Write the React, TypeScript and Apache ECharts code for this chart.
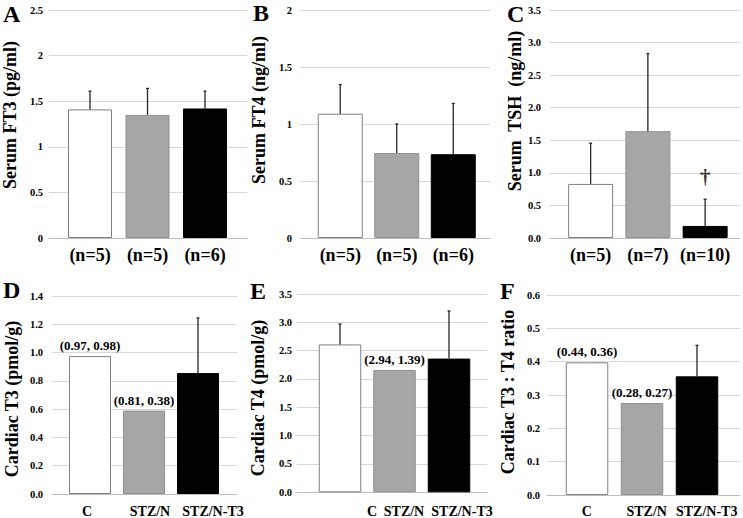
import React, { useEffect, useRef } from 'react';
import * as echarts from 'echarts';

// ---------- data ----------
const nCatsAB = ['(n=5)', '(n=5)', '(n=6)'];
const nCatsC = ['(n=5)', '(n=7)', '(n=10)'];
const groupCats = ['C', 'STZ/N', 'STZ/N-T3'];

const ft3Mean = [1.41, 1.35, 1.42];
const ft3Err = [0.2, 0.29, 0.19];
const ft4Mean = [1.09, 0.745, 0.735];
const ft4Err = [0.255, 0.255, 0.445];
const tshMean = [0.83, 1.64, 0.185];
const tshErr = [0.625, 1.19, 0.41];
const cardT3Mean = [0.975, 0.59, 0.855];
const cardT3Err = [null, null, 0.39];
const cardT3Notes = ['(0.97, 0.98)', '(0.81, 0.38)', ''];
const cardT4Mean = [2.61, 2.16, 2.36];
const cardT4Err = [0.36, null, 0.84];
const cardT4Notes = ['', '(2.94, 1.39)', ''];
const ratioMean = [0.398, 0.276, 0.356];
const ratioErr = [null, null, 0.093];
const ratioNotes = ['(0.44, 0.36)', '(0.28, 0.27)', ''];
const tshMark = { index: 2, value: 0.94, text: '†' };

const yAxisA = { max: 2.5, interval: 0.5, decimals: -1 };
const yAxisB = { max: 2, interval: 0.5, decimals: -1 };
const yAxisC = { max: 3.5, interval: 0.5, decimals: 1 };
const yAxisD = { max: 1.4, interval: 0.2, decimals: 1 };
const yAxisE = { max: 3.5, interval: 0.5, decimals: 1 };
const yAxisF = { max: 0.6, interval: 0.1, decimals: 1 };

// ---------- layout / style ----------
const SERIF = 'Liberation Serif';
const barColors = [
  { color: '#ffffff', borderColor: '#808080', borderWidth: 1 },
  { color: '#a6a6a6', borderColor: '#909090', borderWidth: 1 },
  { color: '#000000', borderColor: '#000000', borderWidth: 1 },
];

type Panel = {
  letter: string;
  yName: string;
  cats: string[];
  means: number[];
  errs: (number | null)[];
  notes?: string[];
  axis: { max: number; interval: number; decimals: number };
  wide: { left: number; width: number; top: number; height: number };
  bars: { left: number; width: number };
  labels: { left: number; width: number };
  labelShift?: number[];
  barWidth: number;
  tickMargin: number;
  labelFont: number;
  labelMargin: number;
  letterPos: [number, number];
  namePos: [number, number];
  nameFont: number;
};

const panels: Panel[] = [
  {
    letter: 'A', yName: 'Serum FT3 (pg/ml)', cats: nCatsAB, means: ft3Mean, errs: ft3Err, axis: yAxisA,
    wide: { left: 49, width: 198, top: 10, height: 228 },
    bars: { left: 61.25, width: 172.5 }, labels: { left: 61.25, width: 172.5 }, barWidth: 44,
    tickMargin: 6, labelFont: 18, labelMargin: 8, letterPos: [3, 14], namePos: [10, 115], nameFont: 18,
  },
  {
    letter: 'B', yName: 'Serum FT4 (ng/ml)', cats: nCatsAB, means: ft4Mean, errs: ft4Err, axis: yAxisB,
    wide: { left: 300, width: 190, top: 10, height: 228 },
    bars: { left: 312, width: 169.5 }, labels: { left: 312, width: 169.5 }, barWidth: 45,
    tickMargin: 8, labelFont: 18, labelMargin: 8, letterPos: [253, 13], namePos: [259, 110], nameFont: 18,
  },
  {
    letter: 'C', yName: 'Serum  TSH  (ng/ml)', cats: nCatsC, means: tshMean, errs: tshErr, axis: yAxisC,
    wide: { left: 550, width: 190, top: 10, height: 228 },
    bars: { left: 562, width: 171.75 }, labels: { left: 562, width: 171.75 }, barWidth: 45,
    tickMargin: 9, labelFont: 18, labelMargin: 8, letterPos: [507, 14], namePos: [515, 111], nameFont: 18,
  },
  {
    letter: 'D', yName: 'Cardiac T3 (pmol/g)', cats: groupCats, means: cardT3Mean, errs: cardT3Err, notes: cardT3Notes, axis: yAxisD,
    wide: { left: 52, width: 185, top: 296, height: 198 },
    bars: { left: 63, width: 162 }, labels: { left: 55.5, width: 189 }, barWidth: 42,
    tickMargin: 9, labelFont: 14, labelMargin: 11, letterPos: [3, 290], namePos: [12, 399], nameFont: 18,
  },
  {
    letter: 'E', yName: 'Cardiac T4 (pmol/g)', cats: groupCats, means: cardT4Mean, errs: cardT4Err, notes: cardT4Notes, axis: yAxisE,
    wide: { left: 297, width: 190, top: 294, height: 198.3 },
    bars: { left: 312.75, width: 163.5 }, labels: { left: 349.5, width: 135 }, labelShift: [0, -13, 0], barWidth: 42.5,
    tickMargin: 5, labelFont: 14, labelMargin: 12, letterPos: [250, 291], namePos: [258, 398], nameFont: 18,
  },
  {
    letter: 'F', yName: 'Cardiac T3 : T4 ratio', cats: groupCats, means: ratioMean, errs: ratioErr, notes: ratioNotes, axis: yAxisF,
    wide: { left: 547, width: 193, top: 295, height: 200 },
    bars: { left: 559.5, width: 165 }, labels: { left: 556.7, width: 180 }, barWidth: 42.5,
    tickMargin: 7, labelFont: 14, labelMargin: 10, letterPos: [500, 291], namePos: [508, 392], nameFont: 18,
  },
];

function buildOption() {
  const grid: any[] = [];
  const xAxis: any[] = [];
  const yAxis: any[] = [];
  const series: any[] = [];
  const graphic: any[] = [];

  panels.forEach((p, i) => {
    const gw = 3 * i, gb = 3 * i + 1, gl = 3 * i + 2;
    grid.push({ left: p.wide.left, width: p.wide.width, top: p.wide.top, height: p.wide.height, containLabel: false });
    grid.push({ left: p.bars.left, width: p.bars.width, top: p.wide.top, height: p.wide.height, containLabel: false });
    grid.push({ left: p.labels.left, width: p.labels.width, top: p.wide.top, height: p.wide.height, containLabel: false });

    xAxis.push({
      type: 'category', gridIndex: gw, data: p.cats,
      axisLine: { show: true, lineStyle: { color: '#bdbdbd', width: 1 } },
      axisTick: { show: false }, axisLabel: { show: false }, splitLine: { show: false },
    });
    xAxis.push({
      type: 'category', gridIndex: gb, data: p.cats,
      axisLine: { show: false }, axisTick: { show: false }, axisLabel: { show: false },
    });
    const rich: any = {};
    const shifts = p.labelShift || [0, 0, 0];
    shifts.forEach((s, k) => {
      rich['s' + k] = {
        fontFamily: SERIF, fontWeight: 'bold', fontSize: p.labelFont, color: '#000',
        padding: s < 0 ? [0, -2 * s, 0, 0] : [0, 0, 0, 2 * s],
      };
    });
    xAxis.push({
      type: 'category', gridIndex: gl, data: p.cats,
      axisLine: { show: false }, axisTick: { show: false },
      axisLabel: {
        show: true, interval: 0, margin: p.labelMargin, color: '#000',
        fontFamily: SERIF, fontWeight: 'bold', fontSize: p.labelFont,
        formatter: (v: string, idx: number) => `{s${idx}|${v}}`,
        rich,
      },
    });

    const dec = p.axis.decimals;
    yAxis.push({
      type: 'value', gridIndex: gw, min: 0, max: p.axis.max, interval: p.axis.interval,
      axisLine: { show: false }, axisTick: { show: false },
      splitLine: { show: true, lineStyle: { color: '#d9d9d9', width: 1 } },
      axisLabel: {
        show: true, margin: p.tickMargin, color: '#000', fontFamily: SERIF, fontWeight: 'bold', fontSize: 10.5,
        formatter: (v: number) => (dec >= 0 ? v.toFixed(dec) : String(Math.round(v * 100) / 100)),
      },
    });
    yAxis.push({ type: 'value', gridIndex: gb, min: 0, max: p.axis.max, show: false, splitLine: { show: false } });
    yAxis.push({ type: 'value', gridIndex: gl, min: 0, max: p.axis.max, show: false, splitLine: { show: false } });

    series.push({
      type: 'bar', xAxisIndex: gb, yAxisIndex: gb, barWidth: p.barWidth, z: 3,
      data: p.means.map((v, k) => {
        const note = p.notes ? p.notes[k] : '';
        return {
          value: v,
          itemStyle: barColors[k],
          label: note
            ? {
                show: true, position: 'top', distance: 4, formatter: note, color: '#000',
                fontFamily: SERIF, fontWeight: 'bold', fontSize: 13,
              }
            : { show: false },
        };
      }),
    });

    const errData = p.means
      .map((v, k) => (p.errs[k] == null ? null : [k, v, v + (p.errs[k] as number)]))
      .filter((d) => d !== null);
    series.push({
      type: 'custom', xAxisIndex: gb, yAxisIndex: gb, z: 5,
      data: errData,
      renderItem: (params: any, api: any) => {
        const x = api.value(0);
        const p0 = api.coord([x, api.value(1)]);
        const p1 = api.coord([x, api.value(2)]);
        const st = { stroke: '#262626', lineWidth: 1.3 };
        return {
          type: 'group',
          children: [
            { type: 'line', shape: { x1: p0[0], y1: p0[1], x2: p1[0], y2: p1[1] }, style: st },
            { type: 'line', shape: { x1: p1[0] - 1.5, y1: p1[1], x2: p1[0] + 1.5, y2: p1[1] }, style: st },
          ],
        };
      },
    });

    graphic.push({
      type: 'text', x: p.letterPos[0], y: p.letterPos[1],
      style: {
        text: p.letter, fill: '#000', fontFamily: SERIF, fontWeight: 'bold', fontSize: 24,
        textAlign: 'left', textVerticalAlign: 'middle', align: 'left', verticalAlign: 'middle',
      },
    });
    graphic.push({
      type: 'text', x: p.namePos[0], y: p.namePos[1], rotation: Math.PI / 2,
      style: {
        text: p.yName, fill: '#000', fontFamily: SERIF, fontWeight: 'bold', fontSize: p.nameFont,
        textAlign: 'center', textVerticalAlign: 'middle', align: 'center', verticalAlign: 'middle',
      },
    });
  });

  // significance mark on panel C (bar grid of panel C = index 7)
  series.push({
    type: 'scatter', xAxisIndex: 7, yAxisIndex: 7, symbolSize: 1, z: 6,
    itemStyle: { color: 'rgba(0,0,0,0)' },
    data: [[tshMark.index, tshMark.value]],
    label: {
      show: true, position: 'inside', formatter: tshMark.text, color: '#000',
      fontFamily: SERIF, fontWeight: 'bold', fontSize: 22,
    },
  });

  return {
    animation: false,
    backgroundColor: '#ffffff',
    textStyle: { fontFamily: SERIF },
    grid, xAxis, yAxis, series, graphic,
  };
}

export default function App() {
  const ref = useRef<HTMLDivElement>(null);
  useEffect(() => {
    if (!ref.current) return;
    const chart = echarts.init(ref.current, undefined, { renderer: 'svg' });
    chart.setOption(buildOption() as any);
    return () => chart.dispose();
  }, []);
  return (
    <div
      ref={ref}
      style={{ position: 'absolute', left: 0, top: 0, width: 743, height: 518, background: '#fff' }}
    />
  );
}
